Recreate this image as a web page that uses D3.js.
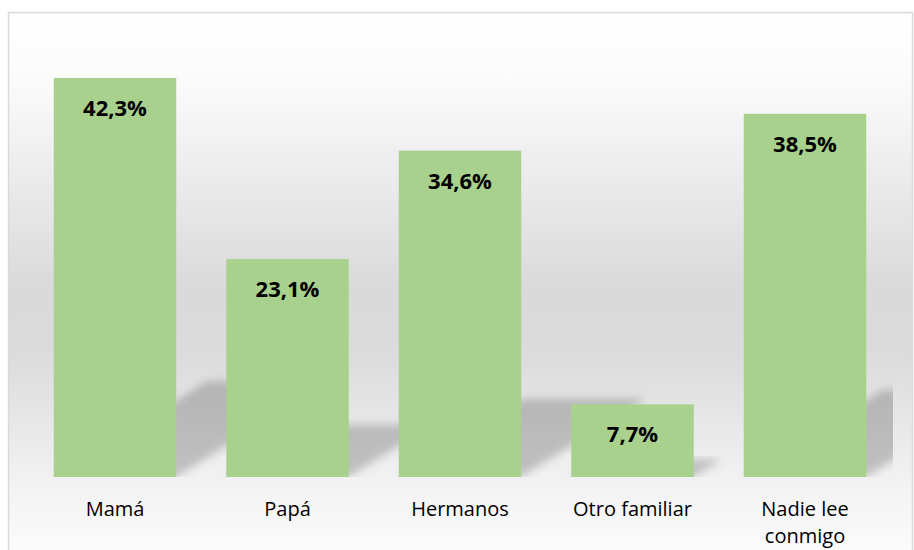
<!DOCTYPE html>
<html>
<head>
<meta charset="utf-8">
<script src="https://cdn.jsdelivr.net/npm/d3@7"></script>
<style>
  html, body { margin: 0; padding: 0; background: #ffffff; }
  svg { display: block; }
</style>
</head>
<body>
<svg id="chart" width="914" height="550"></svg>
<script>
const categories = ["Mamá", "Papá", "Hermanos", "Otro familiar", "Nadie lee conmigo"];
const values = [42.3, 23.1, 34.6, 7.7, 38.5];
const yMax = 45;

const W = 914, H = 550;
const svg = d3.select("#chart");
const defs = svg.append("defs");

// background gradient
const grad = defs.append("linearGradient").attr("id", "bg")
  .attr("x1", 0).attr("y1", 0).attr("x2", 0).attr("y2", 1);
grad.append("stop").attr("offset", "0%").attr("stop-color", "#ffffff");
grad.append("stop").attr("offset", "12%").attr("stop-color", "#fbfbfb");
grad.append("stop").attr("offset", "50%").attr("stop-color", "#d9d9d9");
grad.append("stop").attr("offset", "62%").attr("stop-color", "#dcdcdc");
grad.append("stop").attr("offset", "85%").attr("stop-color", "#f3f3f3");
grad.append("stop").attr("offset", "100%").attr("stop-color", "#fefefe");

svg.append("rect").attr("x", 8.5).attr("y", 12.5).attr("width", 904).attr("height", 560)
  .attr("fill", "url(#bg)").attr("stroke", "#d9d9d9").attr("stroke-width", 1.5);

const baseY = 477;
const y = d3.scaleLinear().domain([0, yMax]).range([baseY, baseY - yMax * (399 / 42.3)]);
const x = d3.scaleBand().domain(categories).range([28.75, 891.25])
  .paddingInner(0.29).paddingOuter(0.145);

// shadow
const blur = defs.append("filter").attr("id", "blur")
  .attr("x", "-20%").attr("y", "-20%").attr("width", "140%").attr("height", "140%");
blur.append("feGaussianBlur").attr("stdDeviation", 4);
defs.append("clipPath").attr("id", "plotClip")
  .append("rect").attr("x", 20).attr("y", 20).attr("width", 873).attr("height", baseY - 20);

const shadowG = svg.append("g").attr("clip-path", "url(#plotClip)");
shadowG.selectAll("path").data(categories).join("path")
  .attr("d", (d, i) => {
    const x0 = x(d), x1 = x(d) + x.bandwidth();
    const h = baseY - y(values[i]);
    const sh = h * 0.24, dx = sh * 1.6;
    return `M${x0},${baseY} L${x1},${baseY} L${x1 + dx},${baseY - sh} L${x0 + dx},${baseY - sh} Z`;
  })
  .attr("fill", "#000").attr("fill-opacity", 0.2).attr("filter", "url(#blur)");

// bars
svg.append("g").selectAll("rect").data(categories).join("rect")
  .attr("x", d => x(d))
  .attr("y", (d, i) => y(values[i]))
  .attr("width", x.bandwidth())
  .attr("height", (d, i) => baseY - y(values[i]))
  .attr("fill", "#a9d18e");

// value labels
const loc = d3.formatLocale({ decimal: ",", thousands: ".", grouping: [3], currency: ["", "€"] });
const fmt = loc.format(".1f");
svg.append("g").selectAll("text").data(categories).join("text")
  .attr("x", d => x(d) + x.bandwidth() / 2)
  .attr("y", (d, i) => y(values[i]) + 38)
  .attr("text-anchor", "middle")
  .attr("font-family", "'Open Sans', sans-serif")
  .attr("font-weight", "bold")
  .attr("font-size", 22)
  .attr("fill", "#000")
  .text((d, i) => fmt(values[i]) + "%");

// category labels (axis without line/ticks)
const axisG = svg.append("g").attr("transform", `translate(0,${baseY})`)
  .call(d3.axisBottom(x).tickSize(0).tickPadding(0));
axisG.select(".domain").remove();
axisG.selectAll("text")
  .attr("font-family", "'Open Sans', sans-serif")
  .attr("font-size", 20)
  .attr("fill", "#000")
  .attr("dy", null)
  .attr("y", 39)
  .each(function(d) {
    const t = d3.select(this);
    const words = d.split(" ");
    t.text(null);
    let line = [];
    let tspan = t.append("tspan").attr("x", 0).attr("y", 39);
    let lineNo = 0;
    for (const w of words) {
      line.push(w);
      tspan.text(line.join(" "));
      if (tspan.node().getComputedTextLength() > 132 && line.length > 1) {
        line.pop();
        tspan.text(line.join(" "));
        line = [w];
        lineNo++;
        tspan = t.append("tspan").attr("x", 0).attr("y", 39 + lineNo * 27).text(w);
      }
    }
  });
</script>
</body>
</html>
